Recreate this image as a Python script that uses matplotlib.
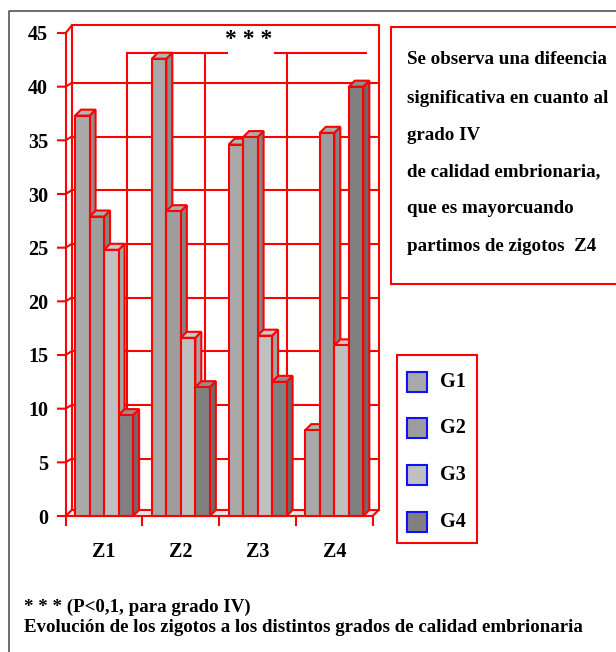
import numpy as np
import matplotlib.pyplot as plt
from matplotlib.patches import Polygon, Rectangle

# Datos
grupos = ['Z1', 'Z2', 'Z3', 'Z4']
series = ['G1', 'G2', 'G3', 'G4']
g1 = [37.3, 42.6, 34.6, 8.0]
g2 = [27.9, 28.4, 35.3, 35.7]
g3 = [24.8, 16.6, 16.8, 15.9]
g4 = [9.4, 12.0, 12.5, 40.0]
yticks = list(range(0, 50, 5))
texto_caja = ['Se observa una difeencia',
              'significativa en cuanto al',
              'grado IV',
              'de calidad embrionaria,',
              'que es mayorcuando',
              'partimos de zigotos  Z4']
nota1 = '* * * (P<0,1, para grado IV)'
nota2 = 'Evolución de los zigotos a los distintos grados de calidad embrionaria'

valores = [g1, g2, g3, g4]
frente = ['#a9a9a9', '#9d9d9d', '#c0c0c0', '#808080']
lado = ['#8c8c8c', '#838383', '#a3a3a3', '#6a6a6a']
techo = ['#b4b4b4', '#acacac', '#cacaca', '#8f8f8f']
rojo = '#ff0000'

plt.rcParams['font.family'] = ['Liberation Serif', 'DejaVu Serif']
plt.rcParams['font.weight'] = 'bold'

W, H = 616, 652
fig = plt.figure(figsize=(W/100, H/100), dpi=100)

# ejes principales: x 0..4 -> 65.7..372.7 px, y 0..45 -> 516..33 px
x0, x1, yb, yt = 65.7, 372.7, 516, 33
ax = fig.add_axes([x0/W, (H-yb)/H, (x1-x0)/W, (yb-yt)/H])
ax.set_xlim(0, 4)
ax.set_ylim(0, 45)
for s in ax.spines.values():
    s.set_visible(False)
ax.patch.set_alpha(0)

dx = 6/76.75   # profundidad en x
dy = 6/10.733  # profundidad en y
gdy = 0.35
lw = 1.5

# pared del fondo
top = 45.7
ax.plot([dx, dx, 4+dx, 4+dx], [dy, top, top, dy], color=rojo, lw=lw, clip_on=False, zorder=1)
for v in yticks[1:-1]:
    ax.plot([dx, 4+dx], [v+gdy, v+gdy], color=rojo, lw=lw, clip_on=False, zorder=1)
    ax.plot([-0.1, 0, dx], [v, v, v+gdy], color=rojo, lw=lw, clip_on=False, zorder=1)
ax.plot([-0.1, 0], [45, 45], color=rojo, lw=lw, clip_on=False, zorder=1)
ax.plot([-0.1, 0], [0, 0], color=rojo, lw=lw, clip_on=False, zorder=1)
ax.plot([0, 0], [0, 45], color=rojo, lw=lw, clip_on=False, zorder=1)
ax.plot([0, dx], [45, top], color=rojo, lw=lw, clip_on=False, zorder=1)

# corchete de significacion
ybr = 43.17
for xv in [0.795, 1.821, 2.883]:
    ax.plot([xv, xv], [dy, ybr], color=rojo, lw=lw, clip_on=False, zorder=1)
ax.plot([0.795, 2.098], [ybr, ybr], color=rojo, lw=lw, zorder=1)
ax.plot([2.723, 3.909], [ybr, ybr], color=rojo, lw=lw, zorder=1)
ax.text(2.388, 44.4, '* * *', ha='center', va='center', fontsize=17, zorder=5)

# suelo
ax.add_patch(Polygon([(0, 0), (4, 0), (4+dx, dy), (dx, dy)], closed=True,
                     facecolor='#e6e6e6', edgecolor=rojo, lw=lw, clip_on=False, zorder=2))
for xv in range(5):
    ax.plot([xv, xv], [0, -0.85], color=rojo, lw=lw, clip_on=False, zorder=2)

# barras
bw = 0.189
for i in range(len(grupos)):
    for j in range(len(series)):
        v = valores[j][i]
        l = i + 0.5 - 2*bw + j*bw
        z = 3 + i*10 + j
        ax.add_patch(Polygon([(l+bw, 0), (l+bw+dx, dy), (l+bw+dx, v+dy), (l+bw, v)],
                             closed=True, facecolor=lado[j], edgecolor=rojo, lw=lw,
                             clip_on=False, zorder=z))
        ax.add_patch(Polygon([(l, v), (l+bw, v), (l+bw+dx, v+dy), (l+dx, v+dy)],
                             closed=True, facecolor=techo[j], edgecolor=rojo, lw=lw,
                             clip_on=False, zorder=z))
        ax.add_patch(Rectangle((l, 0), bw, v, facecolor=frente[j], edgecolor=rojo,
                               lw=lw, clip_on=False, zorder=z))

ax.set_yticks(yticks)
ax.set_yticklabels([str(v) for v in yticks], fontsize=14.5, fontweight='bold')
ax.tick_params(axis='y', length=0, pad=12.7)
ax.set_xticks([i + 0.5 for i in range(len(grupos))])
ax.set_xticklabels(grupos, fontsize=14.5, fontweight='bold')
ax.tick_params(axis='x', length=0, pad=19)

# capa de anotaciones en pixeles
ov = fig.add_axes([0, 0, 1, 1])
ov.set_xlim(0, W)
ov.set_ylim(H, 0)
ov.axis('off')
ov.patch.set_alpha(0)

# marco exterior
ov.plot([9, 9, W], [H, 11, 11], color='#555555', lw=1.2)

# caja de texto
ov.add_patch(Rectangle((391, 27.3), 240, 257, facecolor='white', edgecolor=rojo, lw=1.5))
ys = [60, 98.3, 135, 171.7, 208.3, 246.7]
for yy, t in zip(ys, texto_caja):
    ov.text(406.7, yy, t, ha='left', va='center', fontsize=13.7, fontweight='bold')

# leyenda
ov.add_patch(Rectangle((397.3, 355), 80, 187.7, facecolor='white', edgecolor=rojo, lw=1.5))
ly = [381.7, 428.3, 475, 521.7]
for k in range(len(series)):
    ov.add_patch(Rectangle((406.5, ly[k]-10), 20, 20, facecolor=frente[k],
                           edgecolor='#1010ff', lw=1.5))
    ov.text(440, ly[k], series[k], ha='left', va='center', fontsize=14.5, fontweight='bold')

# notas
ov.text(24, 607, nota1, ha='left', va='center', fontsize=13.6, fontweight='bold')
ov.text(24, 627, nota2, ha='left', va='center', fontsize=13.6, fontweight='bold')

plt.savefig('out.png', dpi=100)
